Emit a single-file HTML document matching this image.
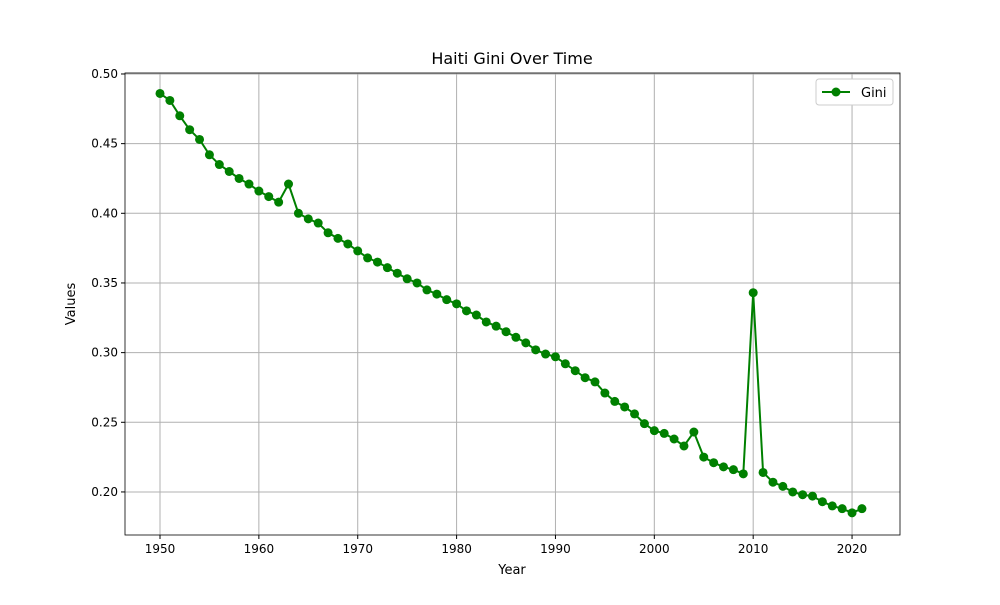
<!DOCTYPE html>
<html><head><meta charset="utf-8"><style>
body{margin:0;background:#fff;font-family:"Liberation Sans","DejaVu Sans",sans-serif}
svg text{font-family:"DejaVu Sans","Liberation Sans",sans-serif;fill:#000}
</style></head><body>
<svg id="chart" width="1000" height="600" viewBox="0 0 1000 600" xmlns="http://www.w3.org/2000/svg">
<rect width="1000" height="600" fill="#fff"/>
<g id="grid"></g>
<g id="axes"></g>
<g id="series"></g>
<rect x="125" y="73" width="775" height="462" fill="none" stroke="#000" stroke-width="0.8"/>
<text x="512" y="64" text-anchor="middle" font-size="16">Haiti Gini Over Time</text>
<text x="512" y="574" text-anchor="middle" font-size="13">Year</text>
<text x="75" y="304" text-anchor="middle" font-size="13" transform="rotate(-90 75 304)">Values</text>
<g>
<rect x="816" y="79" width="77" height="26" rx="3" fill="#fff" stroke="#ccc"/>
<line x1="822" y1="92" x2="850" y2="92" stroke="#008000" stroke-width="2"/>
<circle cx="836" cy="92" r="4.5" fill="#008000"/>
<text x="861" y="97" font-size="13">Gini</text>
</g>
</svg>
<script>
const years=[];for(let y=1950;y<=2021;y++)years.push(y);
const gini=[.486,.481,.470,.460,.453,.442,.435,.430,.425,.421,.416,.412,.408,.421,.400,.396,.393,.386,.382,.378,.373,.368,.365,.361,.357,.353,.350,.345,.342,.338,.335,.330,.327,.322,.319,.315,.311,.307,.302,.299,.297,.292,.287,.282,.279,.271,.265,.261,.256,.249,.244,.242,.238,.233,.243,.225,.221,.218,.216,.213,.343,.214,.207,.204,.200,.198,.197,.193,.190,.188,.185,.188];
const xTicks=[1950,1960,1970,1980,1990,2000,2010,2020];
const yTicks=[0.20,0.25,0.30,0.35,0.40,0.45,0.50];
const L=125,R=900,T=73,B=535,x0=1946.46,x1=2024.85,y0=0.1691,y1=0.5007;
const sx=v=>L+(v-x0)/(x1-x0)*(R-L);
const sy=v=>B-(v-y0)/(y1-y0)*(B-T);
const NS="http://www.w3.org/2000/svg";
const mk=(p,t,a)=>{const e=document.createElementNS(NS,t);for(const k in a)e.setAttribute(k,a[k]);p.appendChild(e);return e;};
const grid=document.getElementById('grid'),axes=document.getElementById('axes'),ser=document.getElementById('series');
xTicks.forEach(t=>{const x=sx(t);
const g=mk(grid,'line',{x1:x,x2:x,y1:T,y2:B,stroke:'#b0b0b0','stroke-width':1});


mk(axes,'line',{x1:x,x2:x,y1:B,y2:B+4,stroke:'#000'});
const tx=mk(axes,'text',{x:x,y:B+18,'text-anchor':'middle','font-size':12});tx.textContent=t;

});
yTicks.forEach(t=>{const y=sy(t);
const g=mk(grid,'line',{x1:L,x2:R,y1:y,y2:y,stroke:'#b0b0b0','stroke-width':1});


mk(axes,'line',{x1:L-4,x2:L,y1:y,y2:y,stroke:'#000'});
const tx=mk(axes,'text',{x:L-7,y:y+4,'text-anchor':'end','font-size':12});tx.textContent=t.toFixed(2);

});
const line=mk(ser,'polyline',{points:years.map((y,i)=>sx(y)+','+sy(gini[i])).join(' '),fill:'none',stroke:'#008000','stroke-width':2});


years.forEach((y,i)=>{const c=mk(ser,'circle',{cx:sx(y),cy:sy(gini[i]),r:4.5,fill:'#008000'});

});
</script>
</body></html>
